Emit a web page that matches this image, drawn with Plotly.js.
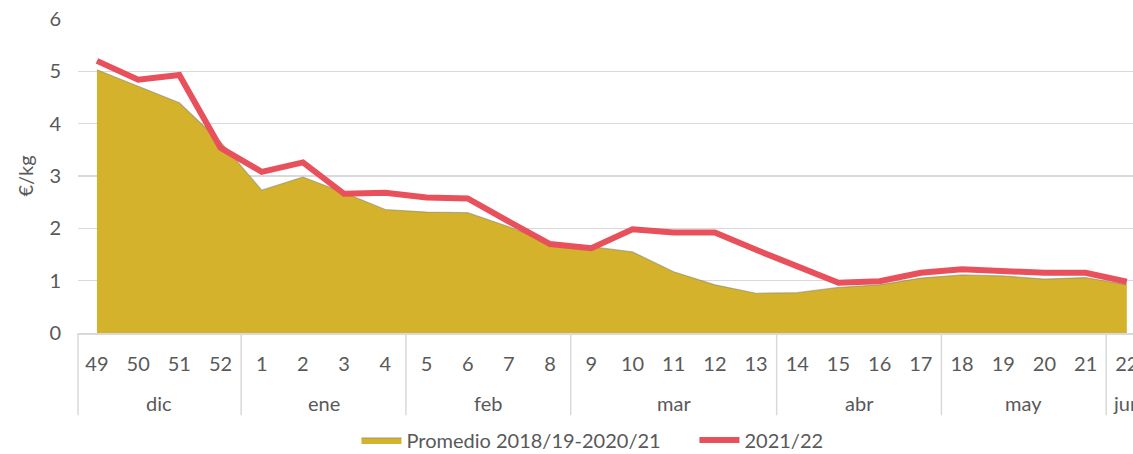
<!DOCTYPE html>
<html>
<head>
<meta charset="utf-8">
<script src="https://cdn.plot.ly/plotly-3.0.1.min.js"></script>
<style>html,body{margin:0;padding:0;background:#fff;}#chart{width:1133px;height:454px;}</style>
</head>
<body>
<div id="chart"></div>
<script>
const weeks = ["49","50","51","52","1","2","3","4","5","6","7","8","9","10","11","12","13","14","15","16","17","18","19","20","21","22"];
const promedio = [5.03,4.72,4.40,3.65,2.73,2.98,2.68,2.36,2.31,2.30,2.03,1.72,1.65,1.55,1.17,0.92,0.76,0.77,0.87,0.92,1.05,1.11,1.09,1.03,1.06,0.92];
const season2122 = [5.20,4.84,4.93,3.54,3.08,3.26,2.66,2.68,2.59,2.57,2.13,1.70,1.62,1.98,1.92,1.92,1.59,1.27,0.96,0.99,1.15,1.22,1.19,1.15,1.15,0.98];
const months = ["dic","ene","feb","mar","abr","may","jun"];
const monthWeekCounts = [4,4,4,5,4,4,1];
const yTicks = [0,1,2,3,4,5,6];

const textColor = "#595959";
const fontFam = "Lato, 'Open Sans', sans-serif";
const fs = 20;

const traces = [
  {
    x: weeks, y: promedio, type: "scatter", mode: "lines",
    name: "Promedio 2018/19-2020/21",
    fill: "tozeroy", fillcolor: "#d4b22c",
    line: {color: "rgba(130,130,120,0.55)", width: 1.2}
  },
  {
    x: weeks, y: season2122, type: "scatter", mode: "lines",
    name: "2021/22",
    line: {color: "#e8505c", width: 6}
  }
];

const shapes = [];
const annotations = [];
let start = 0;
shapes.push({type: "line", xref: "paper", yref: "paper", x0: 0, x1: 0, y0: 0, y1: -0.262, line: {color: "#d9d9d9", width: 1.5}});
months.forEach((m, i) => {
  const n = monthWeekCounts[i];
  const end = start + n;
  annotations.push({
    xref: "x", yref: "paper", x: (start + end - 1) / 2, y: -0.223,
    text: m, showarrow: false, xanchor: "center", yanchor: "middle",
    font: {family: fontFam, size: fs, color: textColor}
  });
  if (i < months.length - 1) {
    shapes.push({type: "line", xref: "x", yref: "paper", x0: end - 0.5, x1: end - 0.5, y0: 0, y1: -0.262, line: {color: "#d9d9d9", width: 1.5}});
  }
  start = end;
});

const layout = {
  width: 1133, height: 454,
  margin: {l: 78, r: 0, t: 19, b: 121, autoexpand: false},
  paper_bgcolor: "#fff", plot_bgcolor: "#fff",
  font: {family: fontFam, size: fs, color: textColor},
  showlegend: true,
  legend: {orientation: "h", xref: "container", x: 0.3146, xanchor: "left", yref: "container", y: 0.031, yanchor: "middle",
           entrywidth: 283, entrywidthmode: "pixels",
           font: {family: fontFam, size: fs, color: textColor}, itemwidth: 40, tracegroupgap: 0},
  xaxis: {
    type: "category", range: [-0.46, 25.15], automargin: false,
    showgrid: false, zeroline: false,
    showline: true, linecolor: "#d9d9d9", linewidth: 1.5,
    ticks: "", ticklabelstandoff: 12,
    tickfont: {family: fontFam, size: fs, color: textColor},
    fixedrange: true
  },
  yaxis: {
    range: [0, 6], tickvals: yTicks, ticktext: yTicks.map(String), automargin: false,
    showgrid: true, gridcolor: "#d9d9d9", gridwidth: 1.5,
    zeroline: false, showline: false, ticks: "", ticklabelstandoff: 16,
    tickfont: {family: fontFam, size: fs, color: textColor},
    title: {text: "€/kg", standoff: 10, font: {family: fontFam, size: fs, color: textColor}}
  },
  shapes: shapes,
  annotations: annotations
};

Plotly.newPlot("chart", traces, layout, {displayModeBar: false, staticPlot: true});
</script>
</body>
</html>
